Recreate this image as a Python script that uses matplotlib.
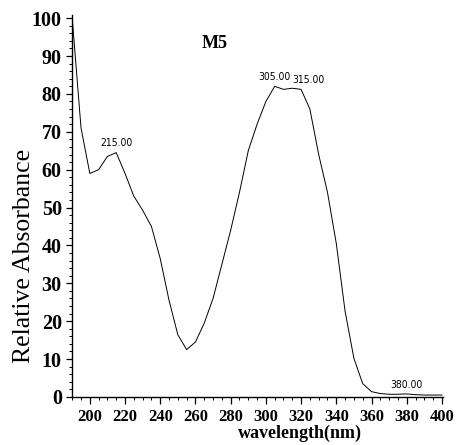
import numpy as np
import matplotlib
matplotlib.use("Agg")
import matplotlib.pyplot as plt
from matplotlib.ticker import MultipleLocator

# absorbance spectrum of sample M5, sampled every 5 nm
wavelength = [190, 195, 200, 205, 210, 215, 220, 225, 230, 235,
              240, 245, 250, 255, 260, 265, 270, 275, 280, 285,
              290, 295, 300, 305, 310, 315, 320, 325, 330, 335,
              340, 345, 350, 355, 360, 365, 370, 375, 380, 385,
              390, 395, 400]
absorbance = [100.0, 71.0, 59.0, 60.0, 63.5, 64.5, 59.0, 53.0, 49.3, 45.0,
              36.5, 25.5, 16.4, 12.5, 14.5, 19.5, 26.0, 35.0, 44.0, 54.0,
              65.0, 72.0, 78.0, 82.0, 81.2, 81.5, 81.2, 76.0, 64.0, 54.0,
              40.5, 22.6, 10.2, 3.5, 1.4, 0.9, 0.7, 0.7, 0.8, 0.6,
              0.5, 0.5, 0.5]
peak_labels = [215, 305, 315, 380]
peak_offsets = {215: (0, 3), 305: (0, 3), 315: (11.5, 2.5), 380: (0, 3)}

serif = ["Liberation Serif", "DejaVu Serif"]

fig = plt.figure(figsize=(4.6, 4.45), dpi=100)
ax = fig.add_axes([0.157, 0.108, 0.806, 0.858])

ax.plot(wavelength, absorbance, color="black", linewidth=0.7)

for wl in peak_labels:
    val = absorbance[wavelength.index(wl)]
    dx, dy = peak_offsets[wl]
    ax.annotate(f"{wl:.2f}", (wl, val), xytext=(dx, dy), textcoords="offset points",
                ha="center", va="bottom", fontsize=7.5, family="DejaVu Sans",
                fontstretch="condensed")

ax.text(0.385, 0.927, "M5", transform=ax.transAxes, ha="center", va="center",
        fontsize=13, family=serif, fontweight="bold")

ax.set_xlim(190, 400.6)
ax.set_ylim(0, 100.8)
ax.xaxis.set_major_locator(MultipleLocator(20))
ax.xaxis.set_minor_locator(MultipleLocator(5))
ax.yaxis.set_major_locator(MultipleLocator(10))
ax.yaxis.set_minor_locator(MultipleLocator(2))
ax.set_xticks(np.arange(200, 401, 20))

ax.spines["top"].set_visible(False)
ax.spines["right"].set_visible(False)
for side in ("left", "bottom"):
    ax.spines[side].set_linewidth(1.0)

ax.tick_params(which="major", direction="out", length=4, width=0.9)
ax.tick_params(which="minor", direction="out", length=2.5, width=0.7)
ax.tick_params(axis="x", which="major", length=5, pad=4)
ax.tick_params(axis="y", which="major", pad=3.5)
for lab in ax.get_xticklabels():
    lab.set_family(serif)
    lab.set_fontsize(12)
    lab.set_fontweight("bold")
for lab in ax.get_yticklabels():
    lab.set_family(serif)
    lab.set_fontsize(14.5)
    lab.set_fontweight("bold")

ax.set_xlabel("wavelength(nm)", family=serif, fontsize=13, fontweight="bold")
ax.xaxis.set_label_coords(0.615, -0.073)
ax.set_ylabel("Relative Absorbance", family=serif, fontsize=18.5)
ax.yaxis.set_label_coords(-0.1, 0.37)

fig.savefig("out.png", dpi=100)
